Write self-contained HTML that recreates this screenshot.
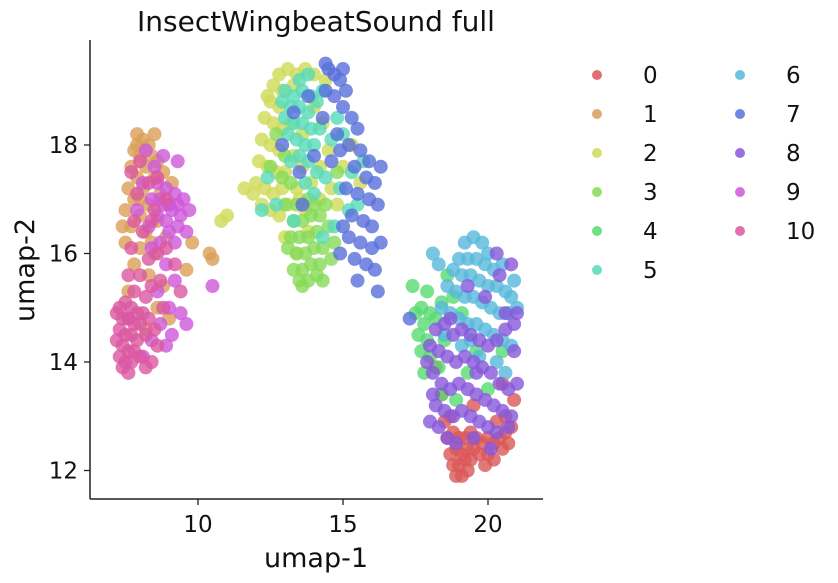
<!DOCTYPE html>
<html><head><meta charset="utf-8"><style>
body{margin:0;background:#fff;}
svg{display:block;font-family:"DejaVu Sans","Liberation Sans",sans-serif;}
</style></head><body>
<svg id="chart" width="838" height="583" viewBox="0 0 838 583">
<text x="316" y="31" font-size="28" text-anchor="middle" fill="#111">InsectWingbeatSound full</text>
<g id="points"></g>
<line x1="90" y1="40" x2="90" y2="499" stroke="#222" stroke-width="1.5"/>
<line x1="90" y1="499" x2="543" y2="499" stroke="#222" stroke-width="1.5"/>
<g id="xticks"></g>
<g id="yticks"></g>
<text x="316" y="567" font-size="27" text-anchor="middle" fill="#111">umap-1</text>
<text x="0" y="0" font-size="27" text-anchor="middle" fill="#111" transform="translate(34,270) rotate(-90)">umap-2</text>
<g id="legend"></g>
</svg>
<script>
const classLabels=["0","1","2","3","4","5","6","7","8","9","10"];
const colors=["#db5757","#db9f57","#cfdb57","#87db57","#57db6f","#57dbb8","#57b8db","#576fdb","#8757db","#ce57db","#db57a0"];
const xTicks=[10,15,20];
const yTicks=[12,14,16,18];
const c0=[[18.9,11.9],[19.1,11.9],[19.3,12.0],[18.8,12.1],[19.0,12.1],[19.2,12.2],[19.4,12.2],[18.7,12.3],[18.9,12.4],[19.1,12.3],[19.3,12.4],[19.5,12.4],[19.7,12.3],[18.6,12.6],[18.8,12.7],[19.0,12.6],[19.2,12.6],[19.4,12.7],[19.6,12.6],[19.8,12.5],[20.0,12.6],[20.2,12.5],[20.4,12.6],[20.6,12.7],[20.8,12.8],[20.0,12.3],[20.2,12.2],[20.5,12.4],[20.7,12.5],[19.9,12.1],[18.5,12.9],[18.7,13.0],[20.3,12.9],[20.6,13.0],[20.9,13.3],[18.4,13.4],[20.5,13.6],[18.2,13.9],[19.5,13.2]];
const c1=[[7.9,18.2],[8.1,18.1],[8.3,18.0],[7.8,17.9],[8.0,17.8],[8.4,17.8],[8.6,17.7],[7.7,17.6],[8.2,17.6],[8.8,17.5],[7.9,17.4],[8.5,17.4],[7.6,17.2],[8.1,17.2],[8.7,17.1],[7.8,17.0],[8.3,16.9],[9.0,16.9],[7.5,16.8],[8.0,16.7],[8.6,16.6],[7.7,16.5],[8.2,16.4],[8.9,16.3],[7.5,16.2],[8.0,16.1],[8.5,16.0],[7.8,15.8],[8.3,15.6],[8.8,15.4],[7.6,15.3],[8.6,15.0],[9.0,14.8],[8.2,14.6],[7.9,18.0],[8.5,18.2],[8.0,17.0],[8.4,16.2],[7.4,16.5],[9.1,17.3],[9.8,16.2],[10.4,16.0],[10.5,15.9],[9.6,15.7]];
const c2=[[12.8,19.3],[13.1,19.4],[13.4,19.3],[13.7,19.4],[14.0,19.3],[12.6,19.1],[12.9,19.0],[13.3,19.1],[12.5,18.8],[12.8,18.7],[12.3,18.5],[12.6,18.4],[12.9,18.3],[12.2,18.1],[12.5,18.0],[12.8,17.9],[12.1,17.7],[12.4,17.6],[12.7,17.5],[12.0,17.3],[12.3,17.2],[12.6,17.1],[11.9,17.1],[12.2,16.9],[12.5,16.8],[12.8,16.7],[13.1,16.9],[13.4,17.2],[13.0,17.5],[13.3,17.8],[13.6,17.6],[13.9,17.3],[14.2,17.6],[14.5,17.9],[14.3,18.4],[14.0,18.7],[13.6,18.2],[13.2,18.4],[14.4,19.2],[14.2,17.0],[13.7,16.8],[14.6,17.2],[15.0,17.6],[15.3,18.0],[13.0,16.3],[13.4,16.0],[11.6,17.2],[12.9,17.2],[13.5,17.0],[14.8,16.9],[13.8,16.4],[12.4,18.9],[15.6,17.3],[11.0,16.7],[10.8,16.6]];
const c3=[[13.5,15.5],[13.8,15.5],[14.1,15.6],[13.3,15.7],[13.6,15.7],[13.9,15.8],[14.2,15.8],[13.4,16.0],[13.7,16.0],[14.0,16.1],[14.3,16.1],[13.2,16.3],[13.5,16.3],[13.8,16.3],[14.1,16.4],[13.3,16.6],[13.6,16.6],[13.9,16.7],[14.2,16.7],[14.5,16.5],[13.0,16.9],[13.4,16.9],[13.8,17.0],[14.4,16.9],[12.9,17.4],[13.2,17.3],[14.6,15.9],[14.3,15.5],[13.6,15.4],[14.7,16.2],[12.7,18.2],[13.0,17.8],[14.0,16.9],[13.1,16.1],[12.5,17.6],[14.8,17.5]];
const c4=[[17.5,14.9],[17.7,15.0],[17.8,14.7],[18.0,14.9],[17.6,14.5],[17.9,14.4],[18.2,14.8],[18.4,15.1],[17.7,14.2],[18.0,14.1],[18.3,13.9],[17.8,13.8],[18.5,14.4],[18.8,15.2],[19.1,14.9],[17.9,15.3],[18.4,13.4],[19.6,14.2],[20.0,13.5],[20.5,14.2],[19.3,13.8],[18.6,15.6],[17.4,15.4],[18.9,13.3]];
const c5=[[13.0,19.0],[13.3,18.9],[13.6,19.0],[13.9,18.9],[13.2,18.7],[13.5,18.7],[13.8,18.6],[14.1,18.8],[13.0,18.5],[13.3,18.4],[13.6,18.4],[13.9,18.3],[14.2,18.3],[13.1,18.2],[13.4,18.1],[13.7,18.0],[14.0,18.0],[13.5,17.8],[13.8,17.7],[14.1,17.5],[14.4,17.4],[13.2,17.7],[13.7,17.3],[14.0,17.1],[14.6,18.1],[14.8,18.5],[15.0,18.2],[15.3,17.5],[15.2,16.8],[14.7,16.5],[14.3,16.3],[13.3,16.6],[12.7,16.9],[12.4,17.4],[12.9,18.8],[13.5,19.2],[14.3,19.0],[14.9,17.2],[15.5,16.9],[15.7,17.7],[12.2,16.8],[13.8,19.3]];
const c6=[[19.2,16.2],[19.5,16.3],[19.8,16.2],[20.0,16.0],[19.0,15.9],[19.3,15.9],[19.6,15.9],[19.9,15.8],[20.2,15.7],[18.8,15.7],[19.1,15.6],[19.4,15.6],[19.7,15.5],[20.0,15.4],[20.3,15.4],[20.6,15.3],[20.9,15.5],[18.6,15.4],[18.9,15.3],[19.2,15.2],[19.5,15.2],[19.8,15.1],[20.1,15.0],[20.4,14.9],[20.7,14.9],[21.0,15.0],[18.4,15.0],[18.7,14.9],[19.0,14.8],[19.3,14.7],[19.6,14.7],[19.9,14.6],[20.2,14.5],[20.5,14.4],[20.8,14.3],[18.5,14.5],[19.1,14.3],[19.7,14.1],[20.3,14.0],[20.6,13.8],[18.3,15.8],[20.5,15.8],[19.4,14.4],[20.8,15.2],[18.1,16.0]];
const c7=[[14.5,19.4],[14.7,19.3],[14.9,19.2],[15.1,19.0],[14.4,19.0],[14.7,18.9],[15.0,18.7],[15.3,18.5],[15.5,18.3],[14.8,18.2],[15.2,18.0],[15.6,17.9],[15.9,17.7],[15.4,17.6],[15.8,17.4],[16.1,17.3],[15.1,17.2],[15.5,17.1],[15.9,17.0],[16.2,16.9],[15.3,16.7],[15.7,16.6],[16.0,16.5],[15.2,16.3],[15.6,16.2],[16.0,16.1],[15.4,15.9],[15.8,15.8],[16.1,15.7],[15.5,15.5],[16.2,15.3],[14.9,16.0],[14.3,18.5],[14.0,17.8],[13.5,17.5],[13.3,18.6],[13.8,18.9],[14.6,17.7],[15.0,16.5],[16.3,17.6],[16.3,16.2],[14.4,19.5],[12.9,18.0],[13.6,16.9],[15.0,19.4],[17.3,14.8],[14.9,17.9]];
const c8=[[18.2,14.6],[18.5,14.7],[18.8,14.5],[19.1,14.6],[19.4,14.5],[19.7,14.4],[20.0,14.3],[20.3,14.4],[20.6,14.6],[20.9,14.7],[18.3,14.2],[18.6,14.1],[18.9,14.0],[19.2,14.1],[19.5,14.0],[19.8,13.9],[20.1,13.8],[20.4,13.6],[20.7,13.5],[18.1,13.8],[18.4,13.6],[18.7,13.5],[19.0,13.6],[19.3,13.5],[19.6,13.4],[19.9,13.3],[20.2,13.2],[20.5,13.1],[20.8,13.0],[18.2,13.2],[18.5,13.1],[18.8,13.0],[19.1,13.1],[19.4,13.0],[19.7,12.9],[20.0,12.8],[20.3,12.7],[18.3,12.8],[18.6,12.6],[18.9,12.5],[19.5,12.6],[20.1,12.4],[18.0,14.3],[18.1,13.4],[20.9,14.2],[21.0,13.6],[20.6,14.9],[19.9,15.2],[19.3,15.4],[20.4,15.6],[20.8,15.8],[18.7,14.8],[17.9,14.0],[18.0,12.9],[20.7,12.8],[19.6,13.8],[21.0,14.9],[20.3,16.0]];
const c9=[[8.6,17.3],[8.9,17.2],[9.2,17.1],[8.4,17.0],[8.8,16.9],[9.1,16.8],[9.4,16.7],[8.6,16.7],[8.9,16.6],[9.3,16.5],[8.3,16.5],[9.0,16.4],[9.5,17.0],[8.7,16.2],[9.2,16.2],[8.4,16.1],[9.6,16.4],[8.1,17.3],[8.5,17.6],[8.8,17.8],[9.3,17.7],[7.9,16.8],[8.9,15.8],[9.2,15.5],[8.6,15.3],[9.0,15.0],[9.4,14.9],[8.7,14.7],[9.1,14.5],[8.4,14.4],[9.6,14.7],[8.1,14.1],[8.9,14.3],[7.6,14.8],[9.7,16.8],[8.2,17.9],[9.0,16.9],[8.7,17.0],[9.3,16.9],[10.5,15.4]];
const c10=[[7.3,15.0],[7.5,15.1],[7.7,15.0],[7.9,14.9],[7.4,14.8],[7.6,14.8],[7.8,14.7],[8.0,14.7],[7.3,14.6],[7.5,14.5],[7.7,14.5],[7.9,14.4],[7.4,14.3],[7.6,14.2],[7.8,14.2],[7.3,14.1],[7.5,14.0],[7.7,14.0],[7.4,13.9],[7.6,13.8],[8.1,14.9],[8.2,14.5],[8.0,14.1],[8.3,14.8],[8.5,14.6],[8.2,15.2],[8.4,15.4],[8.7,15.5],[8.0,15.6],[8.3,15.9],[8.6,16.0],[7.7,16.1],[8.1,16.4],[8.5,16.8],[7.9,17.1],[8.3,17.3],[7.7,17.5],[8.6,17.4],[8.0,17.7],[8.9,16.1],[9.2,15.8],[8.6,14.3],[8.2,13.9],[8.4,14.0],[7.2,14.4],[7.2,14.9],[8.8,15.0],[7.8,15.3],[7.6,15.6],[8.9,17.0],[8.4,16.6],[7.8,16.6],[9.4,15.3]];
const series=[c0,c1,c2,c3,c4,c5,c6,c7,c8,c9,c10];

const NS="http://www.w3.org/2000/svg";
const X=v=>198+(v-10)*29;
const Y=v=>145-(v-18)*54.25;
const pts=document.getElementById('points');
series.forEach((arr,ci)=>{
  arr.forEach(p=>{
    const c=document.createElementNS(NS,'circle');
    c.setAttribute('cx',X(p[0]));c.setAttribute('cy',Y(p[1]));c.setAttribute('r',7);
    c.setAttribute('fill',colors[ci]);c.setAttribute('fill-opacity',0.8);
    
    
    pts.appendChild(c);
  });
});
const xt=document.getElementById('xticks');
xTicks.forEach(t=>{
  const l=document.createElementNS(NS,'line');
  l.setAttribute('x1',X(t));l.setAttribute('x2',X(t));l.setAttribute('y1',499);l.setAttribute('y2',505);l.setAttribute('stroke','#222');l.setAttribute('stroke-width',1.3);
  
  
  xt.appendChild(l);
  const s=document.createElementNS(NS,'text');
  s.setAttribute('x',X(t));s.setAttribute('y',532);s.setAttribute('font-size',23);s.setAttribute('text-anchor','middle');s.setAttribute('fill','#111');
  s.textContent=t;
  
  
  xt.appendChild(s);
});
const yt=document.getElementById('yticks');
yTicks.forEach(t=>{
  const l=document.createElementNS(NS,'line');
  l.setAttribute('x1',84);l.setAttribute('x2',90);l.setAttribute('y1',Y(t));l.setAttribute('y2',Y(t));l.setAttribute('stroke','#222');l.setAttribute('stroke-width',1.3);
  
  
  yt.appendChild(l);
  const s=document.createElementNS(NS,'text');
  s.setAttribute('x',78);s.setAttribute('y',Y(t)+8);s.setAttribute('font-size',23);s.setAttribute('text-anchor','end');s.setAttribute('fill','#111');
  s.textContent=t;
  
  
  yt.appendChild(s);
});
const lg=document.getElementById('legend');
classLabels.forEach((lab,i)=>{
  const col=i<6?0:1,row=i<6?i:i-6;
  const mx=597+col*143,my=75+row*39;
  const c=document.createElementNS(NS,'circle');
  c.setAttribute('cx',mx);c.setAttribute('cy',my);c.setAttribute('r',5);c.setAttribute('fill',colors[i]);c.setAttribute('fill-opacity',0.85);
  
  
  lg.appendChild(c);
  const s=document.createElementNS(NS,'text');
  s.setAttribute('x',mx+46);s.setAttribute('y',my+8);s.setAttribute('font-size',23);s.setAttribute('fill','#111');
  s.textContent=lab;
  
  
  lg.appendChild(s);
});
</script>
</body></html>
